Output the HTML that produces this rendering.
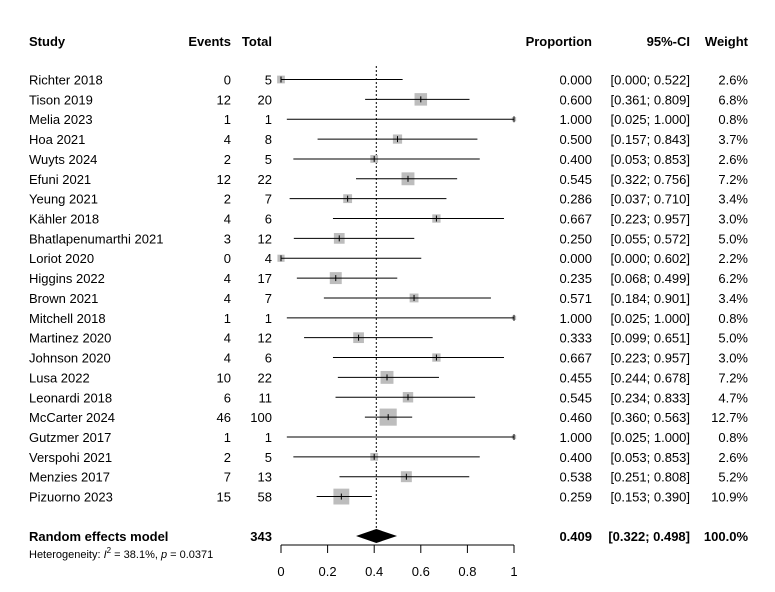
<!DOCTYPE html>
<html><head><meta charset="utf-8"><style>
body{margin:0;background:#fff}
svg{display:block;font-family:"Liberation Sans",Arial,sans-serif;font-size:13px}
.b{font-weight:bold}
</style></head><body>
<svg id="c" width="775" height="592">
<g id="hdr">
<text x="29" y="46" class="b">Study</text>
<text x="231" y="46" class="b" text-anchor="end">Events</text>
<text x="272" y="46" class="b" text-anchor="end">Total</text>
<text x="592" y="46" class="b" text-anchor="end">Proportion</text>
<text x="690" y="46" class="b" text-anchor="end">95%-CI</text>
<text x="748" y="46" class="b" text-anchor="end">Weight</text>
</g>
<g id="rows"></g>
<g id="axis"></g>
</svg>
<script>
const studies=["Richter 2018","Tison 2019","Melia 2023","Hoa 2021","Wuyts 2024","Efuni 2021","Yeung 2021","Kähler 2018","Bhatlapenumarthi 2021","Loriot 2020","Higgins 2022","Brown 2021","Mitchell 2018","Martinez 2020","Johnson 2020","Lusa 2022","Leonardi 2018","McCarter 2024","Gutzmer 2017","Verspohi 2021","Menzies 2017","Pizuorno 2023"];
const events=[0,12,1,4,2,12,2,4,3,0,4,4,1,4,4,10,6,46,1,2,7,15];
const totals=[5,20,1,8,5,22,7,6,12,4,17,7,1,12,6,22,11,100,1,5,13,58];
const props=[0.000,0.600,1.000,0.500,0.400,0.545,0.286,0.667,0.250,0.000,0.235,0.571,1.000,0.333,0.667,0.455,0.545,0.460,1.000,0.400,0.538,0.259];
const lower=[0.000,0.361,0.025,0.157,0.053,0.322,0.037,0.223,0.055,0.000,0.068,0.184,0.025,0.099,0.223,0.244,0.234,0.360,0.025,0.053,0.251,0.153];
const upper=[0.522,0.809,1.000,0.843,0.853,0.756,0.710,0.957,0.572,0.602,0.499,0.901,1.000,0.651,0.957,0.678,0.833,0.563,1.000,0.853,0.808,0.390];
const weights=[2.6,6.8,0.8,3.7,2.6,7.2,3.4,3.0,5.0,2.2,6.2,3.4,0.8,5.0,3.0,7.2,4.7,12.7,0.8,2.6,5.2,10.9];
const pooled=[0.409,0.322,0.498];
const totalN=343;
const ticks=[0,0.2,0.4,0.6,0.8,1];
const tickLabels=["0","0.2","0.4","0.6","0.8","1"];
const NS="http://www.w3.org/2000/svg";
const X=v=>281+v*233;
const Y=i=>79.5+i*19.86;
function mk(p,t,a){const e=document.createElementNS(NS,t);for(const k in a)e.setAttribute(k,a[k]);p.appendChild(e);return e;}
const rows=document.getElementById('rows');
const f=v=>v.toFixed(3);
const ref=mk(rows,'line',{x1:X(pooled[0]),x2:X(pooled[0]),y1:66,y2:529,stroke:'#000','stroke-dasharray':'2,2','stroke-width':1});


studies.forEach((s,i)=>{
const g=mk(rows,'g',{});


const y=Y(i);
const t=(x,txt,anc)=>{const e=mk(g,'text',{x:x,y:y+5,'text-anchor':anc});e.textContent=txt;return e;};
t(29,s,'start');t(231,events[i],'end');t(272,totals[i],'end');
t(592,f(props[i]),'end');t(690,'['+f(lower[i])+'; '+f(upper[i])+']','end');t(748,weights[i].toFixed(1)+'%','end');
const sz=4.8*Math.sqrt(weights[i]);
const sq=mk(g,'rect',{x:X(props[i])-sz/2,y:y-sz/2,width:sz,height:sz,fill:'#bdbdbd'});


const ln=mk(g,'line',{x1:X(lower[i]),x2:X(upper[i]),y1:y,y2:y,stroke:'#000','stroke-width':1});


mk(g,'line',{x1:X(props[i]),x2:X(props[i]),y1:y-3,y2:y+3,stroke:'#000','stroke-width':1});
});
const ax=document.getElementById('axis');
const yd=536;
const pm=mk(ax,'g',{});


let e=mk(pm,'text',{x:29,y:yd+5,class:'b'});e.textContent='Random effects model';
e=mk(pm,'text',{x:272,y:yd+5,class:'b','text-anchor':'end'});e.textContent=totalN;
e=mk(pm,'text',{x:592,y:yd+5,class:'b','text-anchor':'end'});e.textContent=f(pooled[0]);
e=mk(pm,'text',{x:690,y:yd+5,class:'b','text-anchor':'end'});e.textContent='['+f(pooled[1])+'; '+f(pooled[2])+']';
e=mk(pm,'text',{x:748,y:yd+5,class:'b','text-anchor':'end'});e.textContent='100.0%';
const dia=mk(pm,'polygon',{points:`${X(pooled[1])},${yd} ${X(pooled[0])},${yd-7} ${X(pooled[2])},${yd} ${X(pooled[0])},${yd+7}`,fill:'#000'});


const het=mk(pm,'text',{x:29,y:558,'font-size':'11'});
het.innerHTML='Heterogeneity: <tspan font-style="italic">I</tspan><tspan dy="-5" font-size="8">2</tspan><tspan dy="5"> = 38.1%, </tspan><tspan font-style="italic">p</tspan> = 0.0371';


const al=mk(ax,'line',{x1:X(0),x2:X(1),y1:545,y2:545,stroke:'#000'});


ticks.forEach((v,i)=>{
mk(ax,'line',{x1:X(v),x2:X(v),y1:545,y2:553,stroke:'#000'});
const tl=mk(ax,'text',{x:X(v),y:576,'text-anchor':'middle'});
tl.textContent=tickLabels[i];


});
</script>
</body></html>
